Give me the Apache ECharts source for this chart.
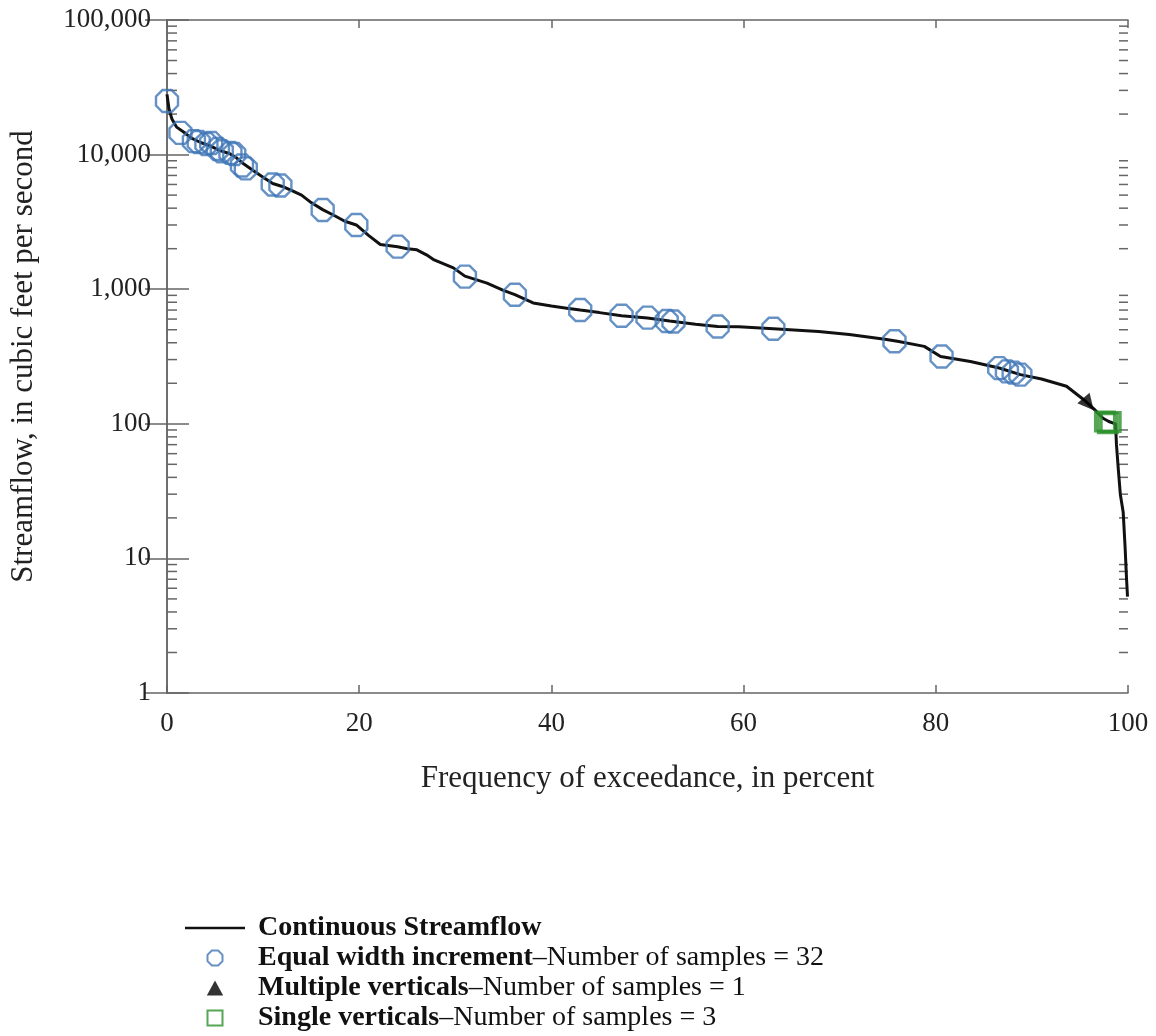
<!DOCTYPE html>
<html>
<head>
<meta charset="utf-8">
<script src="https://cdn.jsdelivr.net/npm/echarts@6/dist/echarts.min.js"></script>
<style>
  html, body { margin: 0; padding: 0; background: #fff; }
  #chart { width: 1156px; height: 1036px; }
</style>
</head>
<body>
<div id="chart"></div>
<script>
// continuous streamflow duration curve [exceedance %, cfs]
const streamflow = [
  [0, 28000], [0.2, 22000], [0.5, 18500], [1.0, 16000], [1.8, 14600], [2.5, 13300],
  [3.5, 12300], [4.5, 11600], [5.5, 10700], [6.5, 10200], [7.2, 9500], [8.0, 8500],
  [9.0, 7600], [10.0, 6800], [11.0, 6100], [12.0, 5800], [13.0, 5400], [14.0, 5000],
  [15.0, 4400], [16.2, 3900], [17.5, 3500], [18.5, 3200], [19.7, 3000], [21.0, 2500],
  [22.2, 2150], [24.0, 2070], [25.0, 2000], [26.0, 1960], [27.0, 1800], [27.8, 1650],
  [29.8, 1440], [31.0, 1250], [33.3, 1110], [35.0, 980], [36.2, 910], [38.1, 790],
  [40.0, 750], [41.6, 723], [43.0, 700], [45.0, 670], [47.3, 635], [50.0, 610],
  [52.3, 580], [55.0, 550], [57.3, 528], [59.5, 525], [63.1, 508], [67.8, 485],
  [71.0, 460], [74.7, 425], [76.0, 410], [78.8, 376], [80.5, 316], [83.6, 290],
  [86.6, 260], [88.8, 232], [91.0, 215], [93.6, 190], [95.4, 151], [96.5, 128],
  [97.4, 110], [98.0, 104], [98.7, 100], [98.8, 70], [99.0, 45], [99.2, 30],
  [99.5, 22], [99.7, 12], [99.85, 7], [99.95, 5.2]
];

const equalWidth = [
  [0.0, 25000], [1.4, 14500], [2.8, 12600], [3.3, 12400], [4.1, 12000], [4.6, 12200],
  [5.3, 11000], [5.7, 10600], [6.6, 10300], [7.0, 10100], [7.8, 8300], [8.2, 7900],
  [11.0, 6000], [11.8, 5900], [16.2, 3880], [19.7, 3000], [24.0, 2070], [31.0, 1240],
  [36.2, 910], [43.0, 700], [47.3, 635], [50.0, 615], [52.0, 580], [52.7, 575],
  [57.3, 528], [63.1, 508], [75.7, 410], [80.6, 316], [86.6, 259], [87.4, 245],
  [88.1, 240], [88.8, 232]
];

const multipleVerticals = [[95.9, 140]];

const singleVerticals = [[97.6, 104], [97.9, 101], [98.2, 103]];

const xTicks = [0, 20, 40, 60, 80, 100];
const yTickLabels = { 1: '1', 10: '10', 100: '100', 1000: '1,000', 10000: '10,000', 100000: '100,000' };

// minor ticks of the log axis (2..9 in each decade)
const minorTicks = [];
for (let d = 1; d < 100000; d *= 10) {
  for (let k = 2; k <= 9; k++) minorTicks.push([0, k * d]);
}

const FONT = 'Liberation Serif';
const octagon = 'path://M7,0 L17,0 L24,7 L24,17 L17,24 L7,24 L0,17 L0,7 Z';

const legendNotes = {
  'Continuous Streamflow': '',
  'Equal width increment': '–Number of samples = ' + equalWidth.length,
  'Multiple verticals': '–Number of samples = ' + multipleVerticals.length,
  'Single verticals': '–Number of samples = ' + singleVerticals.length
};

const chart = echarts.init(document.getElementById('chart'));

const axisLine = { show: true, lineStyle: { color: '#666', width: 1.5 } };

const option = {
  backgroundColor: '#fff',
  animation: false,
  grid: { left: 165, right: 28, top: 20, bottom: 343 },
  legend: {
    orient: 'vertical',
    left: 185,
    top: 914,
    padding: 0,
    itemWidth: 60,
    itemHeight: 15,
    itemGap: 2,
    selectedMode: false,
    symbolRotate: 0,
    data: [
      { name: 'Continuous Streamflow', icon: 'path://M0,0 L60,0 L60,2.5 L0,2.5 Z' },
      { name: 'Equal width increment', icon: octagon },
      { name: 'Multiple verticals', icon: 'path://M6,0 L12,11 L0,11 Z' },
      { name: 'Single verticals', icon: 'path://M0,0 L16,0 L16,16 L0,16 Z' }
    ],
    formatter: name => '{b|' + name + '}' + (legendNotes[name] ? '{n|' + legendNotes[name] + '}' : ''),
    textStyle: {
      fontFamily: FONT,
      fontSize: 28,
      color: '#111',
      padding: [0, 0, 0, 8],
      rich: {
        b: { fontFamily: FONT, fontSize: 28, fontWeight: 'bold', color: '#111' },
        n: { fontFamily: FONT, fontSize: 28, color: '#111' }
      }
    }
  },
  xAxis: [
    {
      type: 'value',
      position: 'bottom',
      min: 0,
      max: 100,
      interval: 20,
      name: 'Frequency of exceedance, in percent',
      nameLocation: 'middle',
      nameGap: 70,
      nameTextStyle: { fontFamily: FONT, fontSize: 31, color: '#222' },
      axisLine: axisLine,
      axisTick: { show: true, inside: true, length: 8, lineStyle: { color: '#666', width: 1.5 } },
      axisLabel: {
        fontFamily: FONT, fontSize: 27, color: '#222', margin: 17,
        formatter: v => xTicks.indexOf(v) >= 0 ? String(v) : ''
      },
      splitLine: { show: false }
    },
    {
      type: 'value',
      position: 'top',
      min: 0,
      max: 100,
      interval: 20,
      axisLine: axisLine,
      axisTick: { show: true, inside: true, length: 8, lineStyle: { color: '#666', width: 1.5 } },
      axisLabel: { show: false },
      splitLine: { show: false }
    }
  ],
  yAxis: [
    {
      type: 'log',
      logBase: 10,
      min: 1,
      max: 100000,
      position: 'left',
      name: 'Streamflow, in cubic feet per second',
      nameLocation: 'middle',
      nameGap: 128,
      nameTextStyle: { fontFamily: FONT, fontSize: 31, color: '#222' },
      axisLine: axisLine,
      axisTick: { show: true, inside: true, length: 22, lineStyle: { color: '#666', width: 1.5 } },
      axisLabel: {
        fontFamily: FONT, fontSize: 27, color: '#222', margin: 16,
        formatter: v => yTickLabels[Math.round(v)] || ''
      },
      splitLine: { show: false }
    },
    {
      type: 'log',
      logBase: 10,
      min: 1,
      max: 100000,
      position: 'right',
      axisLine: axisLine,
      axisTick: { show: true, inside: true, length: 22, lineStyle: { color: '#666', width: 1.5 } },
      axisLabel: { show: false },
      splitLine: { show: false }
    }
  ],
  series: [
    {
      name: 'minor ticks',
      type: 'custom',
      silent: true,
      clip: false,
      z: 1,
      data: minorTicks,
      renderItem: (params, api) => {
        const v = api.value(1);
        const l = api.coord([0, v]);
        const r = api.coord([100, v]);
        return {
          type: 'group',
          children: [
            { type: 'line', shape: { x1: l[0], y1: l[1], x2: l[0] + 10, y2: l[1] }, style: { stroke: '#666', lineWidth: 1.5 } },
            { type: 'line', shape: { x1: r[0] - 9, y1: r[1], x2: r[0], y2: r[1] }, style: { stroke: '#666', lineWidth: 1.5 } }
          ]
        };
      }
    },
    {
      name: 'Continuous Streamflow',
      type: 'line',
      data: streamflow,
      symbol: 'none',
      z: 2,
      lineStyle: { color: '#111', width: 3 },
      itemStyle: { color: '#111' }
    },
    {
      name: 'Equal width increment',
      type: 'scatter',
      data: equalWidth,
      symbol: octagon,
      symbolSize: 22,
      z: 3,
      itemStyle: { color: 'rgba(0,0,0,0)', borderColor: '#3f76b6', borderWidth: 2.4 }
    },
    {
      name: 'Multiple verticals',
      type: 'scatter',
      data: multipleVerticals,
      symbol: 'triangle',
      symbolSize: 16,
      symbolRotate: -140,
      z: 4,
      itemStyle: { color: '#000' }
    },
    {
      name: 'Single verticals',
      type: 'scatter',
      data: singleVerticals,
      symbol: 'rect',
      symbolSize: 19,
      z: 4,
      itemStyle: { color: 'rgba(0,0,0,0)', borderColor: '#2a902a', borderWidth: 3 }
    }
  ]
};

chart.setOption(option);
</script>
</body>
</html>
